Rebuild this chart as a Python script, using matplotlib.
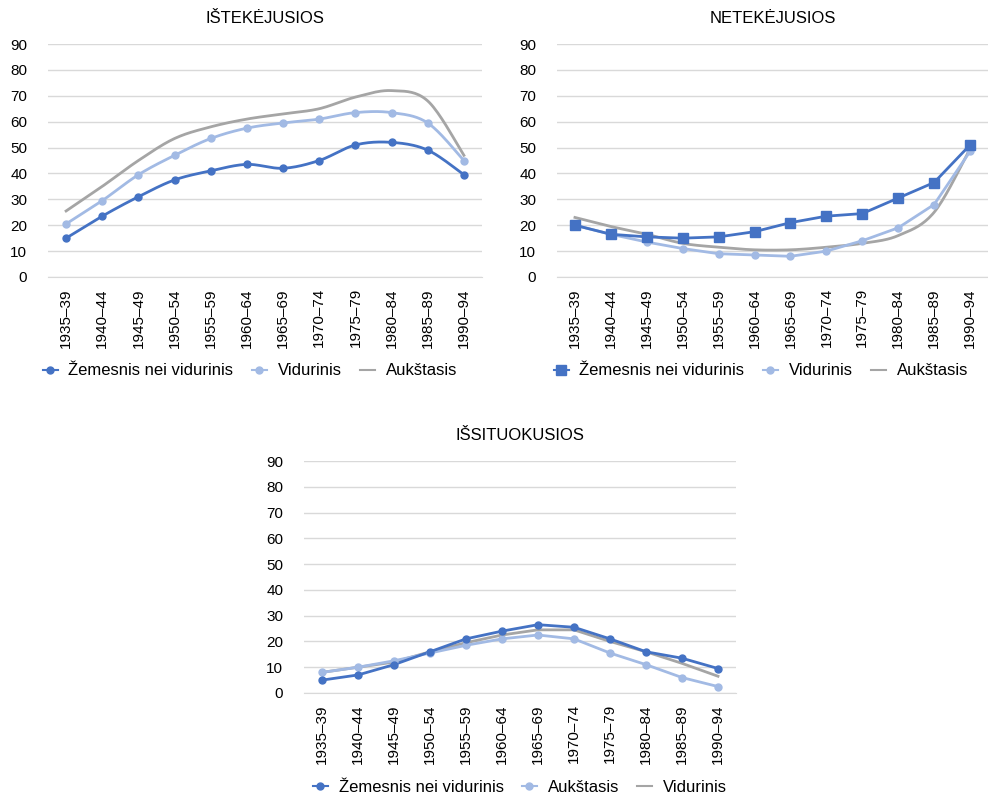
import numpy as np
import matplotlib.pyplot as plt
from matplotlib.lines import Line2D

plt.rcParams['font.family'] = ['Liberation Sans', 'DejaVu Sans']

# Kategorijos (gimimo kohortos)
kohortos = ['1935–39', '1940–44', '1945–49', '1950–54', '1955–59', '1960–64',
            '1965–69', '1970–74', '1975–79', '1980–84', '1985–89', '1990–94']

# Ištekėjusios
istek_zem = [15, 23.5, 31, 37.5, 41, 43.5, 42, 45, 51, 52, 49, 39.5]
istek_vid = [20.5, 29.5, 39.5, 47, 53.5, 57.5, 59.5, 61, 63.5, 63.5, 59.5, 45]
istek_auk = [25.5, 35, 45, 53.5, 58, 61, 63, 65, 69.5, 72, 68, 47]

# Netekėjusios
netek_zem = [20, 16.5, 15.5, 15, 15.5, 17.5, 21, 23.5, 24.5, 30.5, 36.5, 51]
netek_vid = [20, 16.5, 13.5, 11, 9, 8.5, 8, 10, 14, 19, 28, 48.5]
netek_auk = [23, 19.5, 16.5, 13, 11.5, 10.5, 10.5, 11.5, 13, 16, 25, 49.5]

# Išsituokusios
issit_zem = [5, 7, 11, 16, 21, 24, 26.5, 25.5, 21, 16, 13.5, 9.5]
issit_auk = [8, 10, 12.5, 15.5, 18.5, 21, 22.5, 21, 15.5, 11, 6, 2.5]
issit_vid = [8, 10, 12, 16, 19.5, 22.5, 24.5, 24.5, 20, 16, 11.5, 6.5]

TAMSI = '#4472C4'
SVIESI = '#A2BAE4'
PILKA = '#A5A5A5'


def glotni(y, n=20):
    # Catmull-Rom kreive tarp tasku (kaip Excel "smoothed line")
    y = np.asarray(y, dtype=float)
    x = np.arange(len(y), dtype=float)
    P = np.vstack([x, y]).T
    P = np.vstack([P[0], P, P[-1]])
    xs, ys = [], []
    t = np.linspace(0, 1, n, endpoint=False)
    for i in range(1, len(P) - 2):
        p0, p1, p2, p3 = P[i - 1], P[i], P[i + 1], P[i + 2]
        for tt in t:
            pt = 0.5 * ((2 * p1) + (-p0 + p2) * tt +
                        (2 * p0 - 5 * p1 + 4 * p2 - p3) * tt ** 2 +
                        (-p0 + 3 * p1 - 3 * p2 + p3) * tt ** 3)
            xs.append(pt[0])
            ys.append(pt[1])
    xs.append(x[-1])
    ys.append(y[-1])
    return np.array(xs), np.array(ys)


def linija(ax, y, color, marker=None, ms=5, smooth=False):
    x = np.arange(len(y))
    if smooth:
        xs, ys = glotni(y)
        ax.plot(xs, ys, color=color, lw=2, zorder=3)
    else:
        ax.plot(x, y, color=color, lw=2, zorder=3)
    if marker:
        ax.plot(x, y, ls='none', marker=marker, ms=ms, color=color, zorder=4)


def paruosti(ax, title):
    ax.set_xlim(-0.5, len(kohortos) - 0.5)
    ax.set_ylim(0, 90)
    ax.set_yticks(range(0, 91, 10))
    ax.yaxis.grid(True, color='#D9D9D9', lw=1)
    ax.set_axisbelow(True)
    for s in ['top', 'right', 'left']:
        ax.spines[s].set_visible(False)
    ax.spines['bottom'].set_color('#D9D9D9')
    ax.set_xticks(range(len(kohortos)))
    ax.set_xticklabels(kohortos, rotation=90)
    ax.tick_params(axis='both', length=0, labelsize=11, colors='#000000')
    ax.tick_params(axis='y', pad=15)
    ax.tick_params(axis='x', pad=8)
    ax.set_title(title, fontsize=12, pad=15)


def legenda(ax, handles, labels, y_px, x_frac=0.5):
    ax.legend(handles, labels, loc='center',
              bbox_to_anchor=(x_frac, y_px), ncol=3, frameon=False,
              fontsize=12, handlelength=0.9, columnspacing=1.1,
              handletextpad=0.65)


W, H = 988, 798
fig = plt.figure(figsize=(W / 100, H / 100), dpi=100)


def ax_px(x0, x1, y0, y1):
    return fig.add_axes([x0 / W, 1 - y1 / H, (x1 - x0) / W, (y1 - y0) / H])


ax1 = ax_px(48, 482, 44, 277)
ax2 = ax_px(557, 988, 44, 277)
ax3 = ax_px(304, 736, 461, 693)

# Ištekėjusios
paruosti(ax1, 'IŠTEKĖJUSIOS')
linija(ax1, istek_auk, PILKA, smooth=True)
linija(ax1, istek_vid, SVIESI, marker='o', ms=5, smooth=True)
linija(ax1, istek_zem, TAMSI, marker='o', ms=5, smooth=True)
h1 = [Line2D([], [], color=TAMSI, marker='o', ms=5, lw=1.5),
      Line2D([], [], color=SVIESI, marker='o', ms=5, lw=1.5),
      Line2D([], [], color=PILKA, lw=1.5)]
legenda(ax1, h1, ['Žemesnis nei vidurinis', 'Vidurinis', 'Aukštasis'],
        (277 - 371) / 233, 0.465)

# Netekėjusios
paruosti(ax2, 'NETEKĖJUSIOS')
linija(ax2, netek_auk, PILKA, smooth=True)
linija(ax2, netek_vid, SVIESI, marker='o', ms=5)
linija(ax2, netek_zem, TAMSI, marker='s', ms=7)
h2 = [Line2D([], [], color=TAMSI, marker='s', ms=7, lw=1.5),
      Line2D([], [], color=SVIESI, marker='o', ms=5, lw=1.5),
      Line2D([], [], color=PILKA, lw=1.5)]
legenda(ax2, h2, ['Žemesnis nei vidurinis', 'Vidurinis', 'Aukštasis'],
        (277 - 371) / 233, 0.473)

# Išsituokusios
paruosti(ax3, 'IŠSITUOKUSIOS')
linija(ax3, issit_vid, PILKA)
linija(ax3, issit_auk, SVIESI, marker='o', ms=5)
linija(ax3, issit_zem, TAMSI, marker='o', ms=5)
h3 = [Line2D([], [], color=TAMSI, marker='o', ms=5, lw=1.5),
      Line2D([], [], color=SVIESI, marker='o', ms=5, lw=1.5),
      Line2D([], [], color=PILKA, lw=1.5)]
legenda(ax3, h3, ['Žemesnis nei vidurinis', 'Aukštasis', 'Vidurinis'],
        (693 - 787) / 232)

fig.savefig('out.png', dpi=100)
